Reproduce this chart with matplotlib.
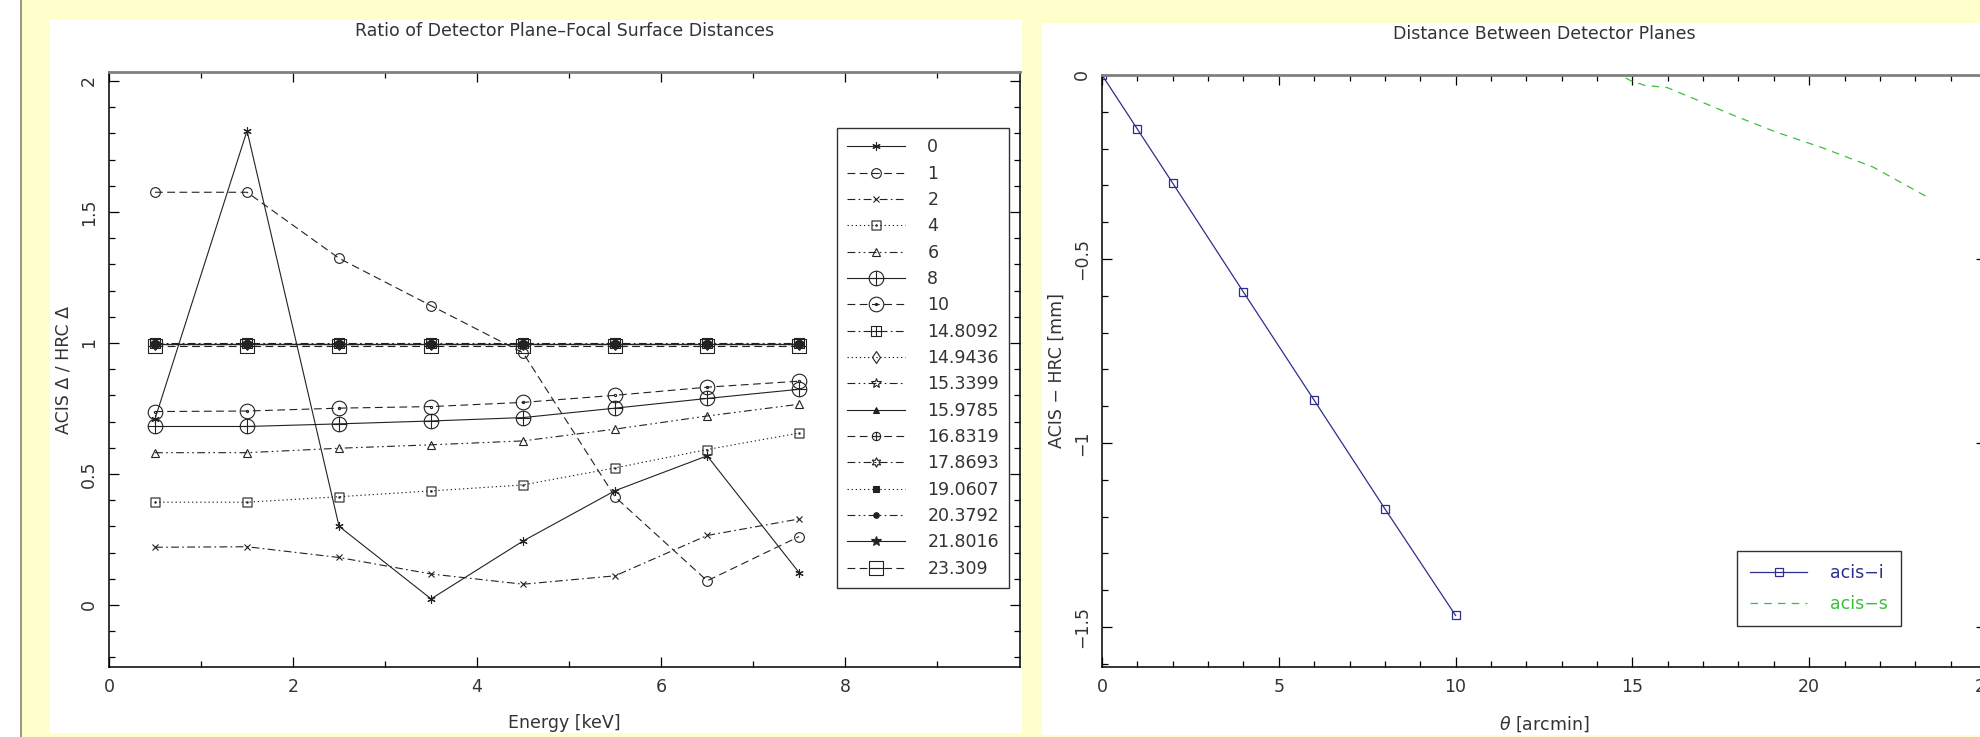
import numpy as np
import matplotlib
matplotlib.use('Agg')
from matplotlib import pyplot as plt
from matplotlib import ticker
from matplotlib.path import Path
from matplotlib.patches import Rectangle
from matplotlib.lines import Line2D

# ---------------- data ----------------
energy = [0.5, 1.5, 2.5, 3.5, 4.5, 5.5, 6.5, 7.5]

series_labels = ['0', '1', '2', '4', '6', '8', '10', '14.8092', '14.9436', '15.3399',
                 '15.9785', '16.8319', '17.8693', '19.0607', '20.3792', '21.8016', '23.309']

ratio_0 = [0.71, 1.81, 0.30, 0.023, 0.244, 0.436, 0.569, 0.123]
ratio_1 = [1.575, 1.575, 1.323, 1.142, 0.962, 0.412, 0.092, 0.261]
ratio_2 = [0.220, 0.222, 0.181, 0.118, 0.079, 0.111, 0.265, 0.328]
ratio_4 = [0.392, 0.392, 0.413, 0.435, 0.458, 0.523, 0.593, 0.656]
ratio_6 = [0.581, 0.581, 0.598, 0.611, 0.626, 0.671, 0.721, 0.766]
ratio_8 = [0.681, 0.681, 0.691, 0.702, 0.715, 0.751, 0.788, 0.823]
ratio_10 = [0.738, 0.740, 0.751, 0.757, 0.773, 0.800, 0.831, 0.854]
ratio_14_8092 = [0.998, 0.998, 0.998, 0.998, 0.998, 0.998, 0.998, 0.998]
ratio_14_9436 = [0.997, 0.997, 0.997, 0.997, 0.997, 0.997, 0.997, 0.997]
ratio_15_3399 = [0.996, 0.996, 0.996, 0.996, 0.996, 0.996, 0.996, 0.996]
ratio_15_9785 = [0.995, 0.995, 0.995, 0.995, 0.995, 0.995, 0.995, 0.995]
ratio_16_8319 = [0.996, 0.996, 0.996, 0.996, 0.996, 0.996, 0.996, 0.996]
ratio_17_8693 = [0.995, 0.995, 0.995, 0.995, 0.995, 0.995, 0.995, 0.995]
ratio_19_0607 = [0.996, 0.996, 0.996, 0.996, 0.996, 0.996, 0.996, 0.996]
ratio_20_3792 = [0.995, 0.995, 0.995, 0.995, 0.995, 0.995, 0.995, 0.995]
ratio_21_8016 = [0.994, 0.994, 0.994, 0.994, 0.994, 0.994, 0.994, 0.994]
ratio_23_309 = [0.990, 0.990, 0.990, 0.990, 0.990, 0.990, 0.990, 0.990]

theta_i = [0, 1, 2, 4, 6, 8, 10]
dz_i = [0.0, -0.147, -0.294, -0.590, -0.884, -1.179, -1.469]
theta_s = [14.8092, 14.9436, 15.3399, 15.9785, 16.8319, 17.8693, 19.0607, 20.3792, 21.8016, 23.309]
dz_s = [-0.008, -0.015, -0.028, -0.034, -0.068, -0.110, -0.155, -0.198, -0.250, -0.330]

ratios = [ratio_0, ratio_1, ratio_2, ratio_4, ratio_6, ratio_8, ratio_10, ratio_14_8092,
          ratio_14_9436, ratio_15_3399, ratio_15_9785, ratio_16_8319, ratio_17_8693,
          ratio_19_0607, ratio_20_3792, ratio_21_8016, ratio_23_309]

# ---------------- markers / styles ----------------
M, L, C = Path.MOVETO, Path.LINETO, Path.CLOSEPOLY
circ = Path.unit_circle()
cross = Path([(-1, 0), (1, 0), (0, -1), (0, 1)], [M, L, M, L])
oplus = Path.make_compound_path(circ, cross)
odot = Path.make_compound_path(circ, Path.circle((0, 0), 0.15))
box = Path([(-1, -1), (1, -1), (1, 1), (-1, 1), (-1, -1)], [M, L, L, L, C])
box_h = Path.make_compound_path(box, Path([(-1, 0), (1, 0)], [M, L]))
box_dot = Path.make_compound_path(box, Path.circle((0, 0), 0.15))
box_ibeam = Path.make_compound_path(box, Path([(0, -1), (0, 1), (-1, 0), (1, 0)], [M, L, M, L]))

solid = '-'
dashed = (0, (7, 4))
dashdot = (0, (7, 3, 1.5, 3))
dotted = (0, (1.2, 2.5))
dashdotdot = (0, (7, 3, 1.5, 3, 1.5, 3))
ls_cycle = [solid, dashed, dashdot, dotted, dashdotdot]

# (marker, size, filled)
mk = [((6, 2, 0), 6, False), ('o', 7, False), ('x', 5, False), (box_dot, 6.5, False),
      ('^', 6, False), (oplus, 10.5, False), (odot, 10.5, False), (box_ibeam, 7, False),
      ('d', 6, False), ('*', 7, False), ('^', 5, True), (oplus, 6, False),
      ((6, 1, 0), 7, False), ('s', 4, True), ('o', 4, True), ('*', 7, True),
      (box_h, 10.5, False)]

W, H = 1980, 737
yellow = '#FFFFCC'
ink = '#222222'
txt = '#333333'
fs = 12.5


def fx(px):
    return px / W


def fy(py):
    return (H - py) / H


fig = plt.figure(figsize=(W / 100, H / 100), dpi=100, facecolor=yellow)

# background panels
fig.add_artist(Rectangle((0, 0), fx(20), 1, transform=fig.transFigure, facecolor='white',
                         edgecolor='none', zorder=-5))
fig.add_artist(Line2D([fx(20.5), fx(20.5)], [0, 1], transform=fig.transFigure, color='#888877',
                      lw=1.2, zorder=-4))
fig.add_artist(Rectangle((fx(50), fy(733)), fx(1022 - 50), (733 - 20) / H, transform=fig.transFigure,
                         facecolor='white', edgecolor='none', zorder=-5))
fig.add_artist(Rectangle((fx(1042), fy(735)), fx(1980 - 1042), (735 - 23) / H, transform=fig.transFigure,
                         facecolor='white', edgecolor='none', zorder=-5))


def style_axes(ax, xmaj, xmin, ymaj, ymin):
    ax.set_facecolor('none')
    ax.xaxis.set_major_locator(ticker.MultipleLocator(xmaj))
    ax.xaxis.set_minor_locator(ticker.MultipleLocator(xmin))
    ax.yaxis.set_major_locator(ticker.MultipleLocator(ymaj))
    ax.yaxis.set_minor_locator(ticker.MultipleLocator(ymin))
    fmt = ticker.FuncFormatter(lambda v, p: '{:g}'.format(round(v, 6)).replace('-', '\u2212'))
    ax.xaxis.set_major_formatter(fmt)
    ax.yaxis.set_major_formatter(fmt)
    ax.tick_params(which='both', direction='in', top=True, right=True, color='black',
                   labelsize=fs, labelcolor=txt, width=0.9)
    ax.tick_params(which='major', length=7, pad=8)
    ax.tick_params(which='minor', length=4)
    ax.tick_params(axis='y', labelrotation=90)
    for lab in ax.get_yticklabels():
        lab.set_va('center')
    for s in ['left', 'right', 'bottom']:
        ax.spines[s].set_color('black')
        ax.spines[s].set_linewidth(1.1)
    ax.spines['top'].set_color('#808080')
    ax.spines['top'].set_linewidth(2)


# ================= left plot =================
ax1 = fig.add_axes([fx(109), fy(667), fx(1020 - 109), (667 - 72) / H])
handles = []
for i, (lab, vals) in enumerate(zip(series_labels, ratios)):
    m, ms, filled = mk[i]
    h, = ax1.plot(energy, vals, color=ink, lw=0.8, linestyle=ls_cycle[i % 5],
                  marker=m, markersize=ms, markeredgewidth=0.8, markeredgecolor=ink,
                  markerfacecolor=ink if filled else 'none', label=lab)
    handles.append(h)

ax1.set_xlim(0, 9.9)
ax1.set_ylim(-0.237, 2.034)
style_axes(ax1, 2, 1, 0.5, 0.1)
ax1.set_title('Ratio of Detector Plane\u2013Focal Surface Distances', fontsize=fs, color=txt, pad=26)
ax1.set_xlabel('Energy [keV]', fontsize=fs, color=txt, labelpad=13)
ax1.set_ylabel('ACIS \u0394 / HRC \u0394', fontsize=fs, color=txt, labelpad=5)

leg1 = ax1.legend(handles=handles, loc='upper left', bbox_to_anchor=(fx(837), fy(128)),
                  bbox_transform=fig.transFigure, fontsize=fs, frameon=True, fancybox=False,
                  handlelength=3.3, handletextpad=1.3, labelspacing=0.48, borderpad=0.6,
                  borderaxespad=0)
leg1.get_frame().set_edgecolor('black')
leg1.get_frame().set_linewidth(1.0)
for t in leg1.get_texts():
    t.set_color(txt)

# ================= right plot =================
ax2 = fig.add_axes([fx(1102), fy(667), fx(1986 - 1102), (667 - 75) / H])
navy = '#2E2E8C'
green = '#3CC03C'
ax2.plot(theta_i, dz_i, color=navy, lw=0.9, marker='s', markersize=6, markerfacecolor='none',
         markeredgecolor=navy, markeredgewidth=0.9, label='acis\u2212i')
ax2.plot(theta_s, dz_s, color=green, lw=0.9, linestyle=(0, (6, 5)), label='acis\u2212s')
ax2.set_xlim(0, 25)
ax2.set_ylim(-1.609, 0)
style_axes(ax2, 5, 1, 0.5, 0.1)
ax2.set_title('Distance Between Detector Planes', fontsize=fs, color=txt, pad=26)
ax2.set_xlabel(r'$\theta$ [arcmin]', fontsize=fs, color=txt, labelpad=13)
ax2.set_ylabel('ACIS \u2212 HRC [mm]', fontsize=fs, color=txt, labelpad=5)

leg2 = ax2.legend(loc='upper left', bbox_to_anchor=(fx(1737), fy(551)), bbox_transform=fig.transFigure,
                  fontsize=fs, frameon=True, fancybox=False, handlelength=3.3, handletextpad=1.3,
                  labelspacing=0.75, borderpad=0.75, borderaxespad=0)
leg2.get_frame().set_edgecolor('black')
leg2.get_frame().set_linewidth(1.0)
for t, c in zip(leg2.get_texts(), [navy, green]):
    t.set_color(c)

fig.savefig('out.png', dpi=100, facecolor=yellow)
